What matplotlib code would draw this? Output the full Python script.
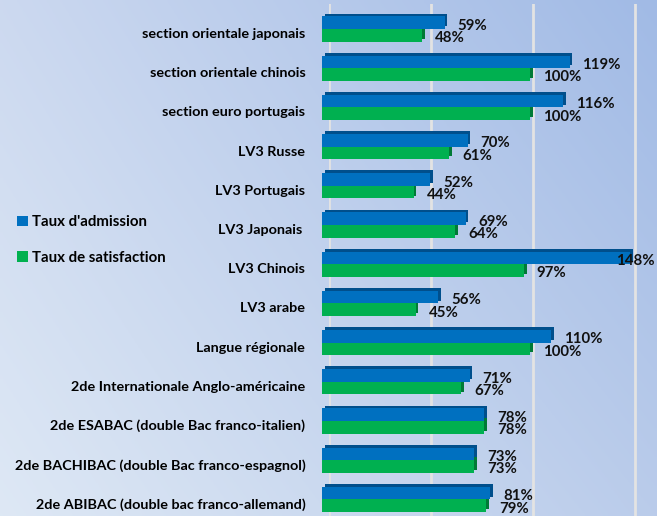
import numpy as np
import matplotlib
matplotlib.use("Agg")
import matplotlib.pyplot as plt
import matplotlib.patheffects as pe
import matplotlib.transforms as mtransforms
from matplotlib.patches import Patch

plt.rcParams['font.family'] = ['Lato', 'DejaVu Sans']
plt.rcParams['font.weight'] = 'bold'

categories = [
    "section orientale japonais",
    "section orientale chinois",
    "section euro portugais",
    "LV3 Russe",
    "LV3 Portugais",
    "LV3 Japonais ",
    "LV3 Chinois",
    "LV3 arabe",
    "Langue régionale",
    "2de Internationale Anglo-américaine",
    "2de ESABAC (double Bac franco-italien)",
    "2de BACHIBAC (double Bac franco-espagnol)",
    "2de ABIBAC (double bac franco-allemand)",
]
admission = [59, 119, 116, 70, 52, 69, 148, 56, 110, 71, 78, 73, 81]
satisfaction = [48, 100, 100, 61, 44, 64, 97, 45, 100, 67, 78, 73, 79]
series_names = ["Taux d'admission", "Taux de satisfaction"]
grid_values = [0, 50, 100, 150]

blue, blue_dark = "#0070C0", "#004f8c"
green, green_dark = "#00B050", "#007a36"

FS = 10.8
CAT_FS = 10.4
W, H, DPI = 657, 516, 100
fig = plt.figure(figsize=(W / DPI, H / DPI), dpi=DPI)

# gradient background
bg = fig.add_axes([0, 0, 1, 1], zorder=-10)
tl = np.array([0.80, 0.85, 0.94]); tr = np.array([0.63, 0.73, 0.90])
bl = np.array([0.87, 0.91, 0.96]); br = np.array([0.73, 0.80, 0.92])
u = np.linspace(0, 1, 200)[None, :, None]
v = np.linspace(0, 1, 200)[:, None, None]
img = (1 - v) * ((1 - u) * tl + u * tr) + v * ((1 - u) * bl + u * br)
bg.imshow(img, aspect='auto', extent=[0, 1, 0, 1])
bg.axis('off')

# axes geometry
x0 = 322
pxper = 2.08
xmax = (W - x0) / pxper
row0, rowsp = 29, 39.2
ytop = -row0 / rowsp
ybot = (H - row0) / rowsp

# back wall (3D perspective: slightly shifted and compressed scale)
back_x0 = 329
back_pxper = 2.04
back = fig.add_axes([back_x0 / W, 0, 1 - back_x0 / W, 1 - 4 / H], zorder=-5)
back.set_xlim(0, (W - back_x0) / back_pxper)
back.patch.set_alpha(0)
for s in back.spines.values():
    s.set_visible(False)
back.set_xticks(grid_values)
back.set_yticks([])
back.tick_params(axis='x', length=0, labelbottom=False)
back.grid(axis='x', color='#e3e3e3', lw=2)

ax = fig.add_axes([x0 / W, 0, 1 - x0 / W, 1])
ax.set_xlim(0, xmax)
ax.set_ylim(ybot, ytop)
ax.patch.set_alpha(0)
for s in ax.spines.values():
    s.set_visible(False)

n = len(categories)
y = np.arange(n)
bh = 0.32

shadow_b = [pe.SimplePatchShadow(offset=(2, 2), shadow_rgbFace=blue_dark, alpha=1), pe.Normal()]
shadow_g = [pe.SimplePatchShadow(offset=(2, 2), shadow_rgbFace=green_dark, alpha=1), pe.Normal()]
bb = ax.barh(y - bh / 2, admission, height=bh, color=blue, zorder=3)
bg_ = ax.barh(y + bh / 2, satisfaction, height=bh, color=green, zorder=2)
for p in bb:
    p.set_path_effects(shadow_b)
for p in bg_:
    p.set_path_effects(shadow_g)

ax.set_yticks(y)
ax.set_yticklabels(categories, fontsize=CAT_FS, fontweight='bold')
ax.tick_params(axis='y', length=0, pad=12)
for lab in ax.get_yticklabels():
    lab.set_transform(lab.get_transform() + mtransforms.ScaledTranslation(0, -4 / DPI, fig.dpi_scale_trans))
ax.set_xticks([])

def put_label(val, yy):
    end_px = val * pxper + 13
    txt = f"{val}%"
    if end_px + 36 > W - x0:
        ax.annotate(txt, xy=(1, yy), xycoords=('axes fraction', 'data'),
                    xytext=(-2, -3), textcoords='offset pixels', ha='right', va='center',
                    fontsize=FS, fontweight='bold', color='#111111', zorder=5)
    else:
        ax.annotate(txt, xy=(val, yy), xytext=(13, -3), textcoords='offset pixels',
                    ha='left', va='center', fontsize=FS, fontweight='bold', color='#111111', zorder=5)

for i in range(n):
    put_label(admission[i], y[i] - bh / 2)
    put_label(satisfaction[i], y[i] + bh / 2)

handles = [Patch(facecolor=blue), Patch(facecolor=green)]
fig.legend(handles, series_names, loc='center left', bbox_to_anchor=(0.006, 0.535),
           frameon=False, handlelength=0.7, handleheight=0.7, handletextpad=0.25,
           labelspacing=1.45, prop={'size': FS, 'weight': 'bold'})

fig.savefig("out.png", dpi=DPI)
